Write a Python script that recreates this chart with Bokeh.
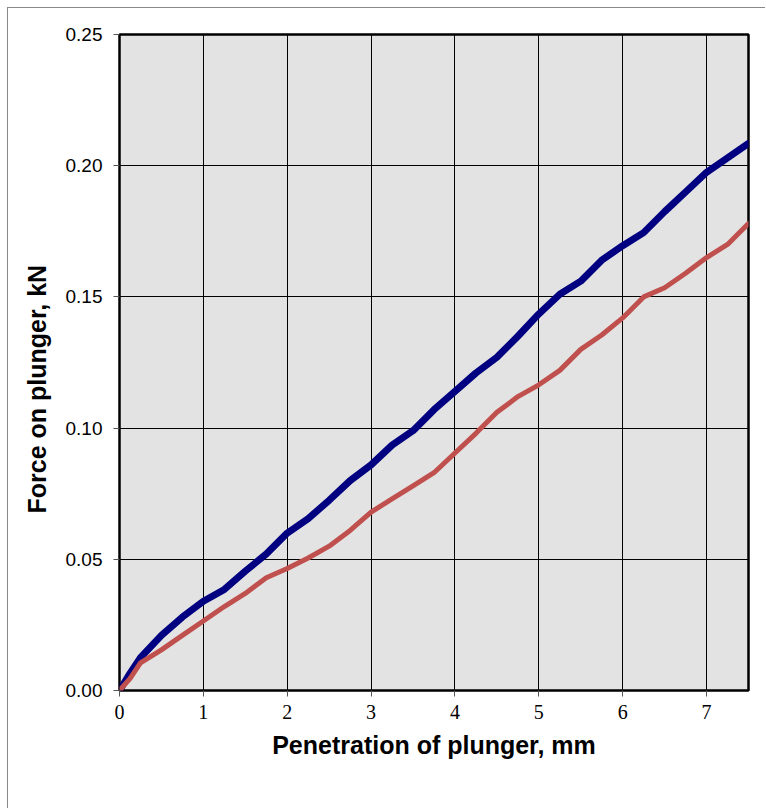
from bokeh.plotting import figure
from bokeh.models import FixedTicker, NumeralTickFormatter, Range1d, Title
from bokeh.embed import file_html
from bokeh.resources import INLINE

x_mm = [0, 0.125, 0.25, 0.5, 0.75, 1, 1.25, 1.5, 1.75, 2, 2.25, 2.5, 2.75, 3,
        3.25, 3.5, 3.75, 4, 4.25, 4.5, 4.75, 5, 5.25, 5.5, 5.75, 6, 6.25, 6.5,
        6.75, 7, 7.25, 7.5]
force_blue = [0, 0.0065, 0.0125, 0.021, 0.028, 0.034, 0.0385, 0.0455, 0.052,
              0.060, 0.0655, 0.0725, 0.080, 0.086, 0.0935, 0.099, 0.107, 0.114,
              0.121, 0.127, 0.135, 0.1435, 0.151, 0.156, 0.164, 0.1695, 0.1745,
              0.1825, 0.190, 0.1975, 0.203, 0.2085]
force_red = [0, 0.0045, 0.0105, 0.0155, 0.021, 0.0265, 0.032, 0.037, 0.043,
             0.0465, 0.0505, 0.055, 0.061, 0.068, 0.073, 0.078, 0.083, 0.0905,
             0.098, 0.106, 0.112, 0.1165, 0.122, 0.130, 0.1355, 0.142, 0.150,
             0.1535, 0.159, 0.165, 0.170, 0.178]
x_ticks = [0, 1, 2, 3, 4, 5, 6, 7]
y_ticks = [0, 0.05, 0.10, 0.15, 0.20, 0.25]

p = figure(width=758, height=801, output_backend="svg", toolbar_location=None,
           x_range=Range1d(0, 7.5), y_range=Range1d(0, 0.25),
           min_border_left=111, min_border_top=26, min_border_right=18,
           min_border_bottom=119)
p.margin = (8, 0, 0, 8)
p.styles = {"box-shadow": "-1px -1px 0 0 #888888"}

p.background_fill_color = "#e3e3e3"
p.border_fill_color = "white"
p.outline_line_color = "black"
p.outline_line_width = 2.5

p.line(x_mm, force_blue, line_color="#000080", line_width=7, line_join="round", line_cap="round")
p.line(x_mm, force_red, line_color="#C0504D", line_width=5, line_join="round", line_cap="round")

p.xgrid.grid_line_color = "black"
p.ygrid.grid_line_color = "black"
p.xgrid.grid_line_width = 1
p.ygrid.grid_line_width = 1

p.xaxis.ticker = FixedTicker(ticks=x_ticks)
p.yaxis.ticker = FixedTicker(ticks=y_ticks)
p.xgrid.ticker = FixedTicker(ticks=x_ticks)
p.ygrid.ticker = FixedTicker(ticks=y_ticks)
p.yaxis.formatter = NumeralTickFormatter(format="0.00")

for ax in (p.xaxis[0], p.yaxis[0]):
    ax.axis_line_color = None
    ax.major_tick_in = 0
    ax.major_tick_out = 6
    ax.major_tick_line_color = "#555555"
    ax.minor_tick_line_color = None
    ax.major_label_text_color = "black"
    ax.axis_label_text_color = "black"
    ax.axis_label_text_font = "Liberation Sans"
    ax.axis_label_text_font_style = "bold"
    ax.axis_label_text_font_size = "25px"

p.xaxis.major_label_text_font = "Liberation Serif"
p.xaxis.major_label_text_font_size = "20px"
p.xaxis.major_label_standoff = 8
p.xaxis.axis_label = "Penetration of plunger, mm"
p.xaxis.axis_label_standoff = 9

p.yaxis.major_label_text_font = "Liberation Sans"
p.yaxis.major_label_text_font_size = "19px"
p.yaxis.major_label_standoff = 11

ytitle = Title(text="Force on plunger, kN", align="left", offset=177,
               text_font="Liberation Sans", text_font_style="bold",
               text_font_size="25px", text_color="black", standoff=23)
p.add_layout(ytitle, "left")

open("out.html", "w").write(file_html(p, INLINE))
